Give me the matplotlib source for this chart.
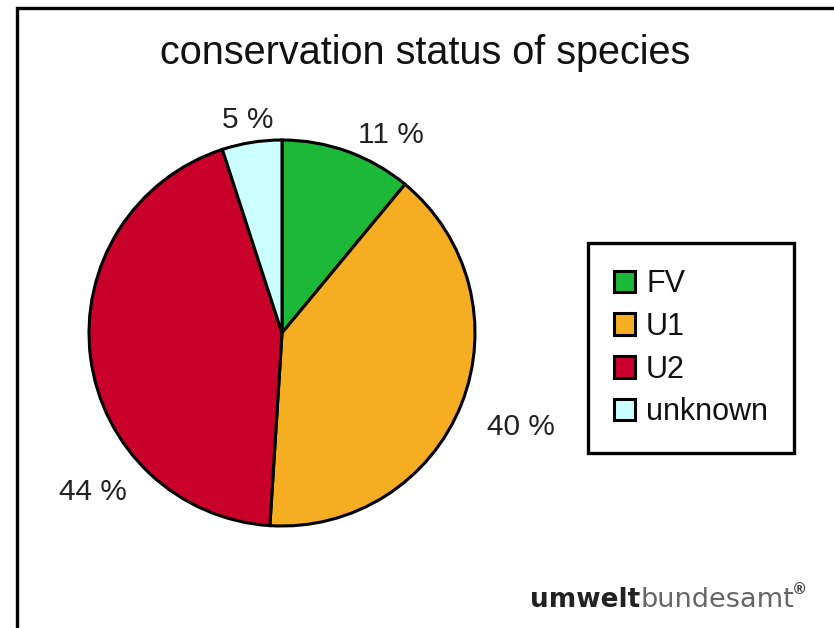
import matplotlib
matplotlib.use("Agg")
import matplotlib.pyplot as plt
from matplotlib.patches import Rectangle, Patch
import numpy as np

# data
categories = ["FV", "U1", "U2", "unknown"]
shares = [11, 40, 44, 5]
pct_labels = ["11 %", "40 %", "44 %", "5 %"]
colors = ["#1cb838", "#f5ae22", "#c8002a", "#ccffff"]

# label placement (radius factor, angle shift in degrees) tuned by eye
label_dist = [1.17, 1.33, 1.28, 1.12]
label_shift = [-9, 0, 33, 0]

plt.rcParams["font.family"] = ["Liberation Sans", "DejaVu Sans"]

W, H = 834, 628
fig = plt.figure(figsize=(W / 100, H / 100), dpi=100)
fig.patch.set_facecolor("white")

# outer frame (cut off at the right and bottom, like the original)
fig.patches.append(Rectangle((17 / W, -0.1), 1.2, 1 - 8 / H + 0.1,
                             transform=fig.transFigure, fill=False,
                             edgecolor="black", linewidth=2.4))

fig.text(425 / W, 1 - 53 / H, "conservation status of species",
         ha="center", va="center", fontsize=28.5, color="#111111")

cx, cy, r = 282, 333, 193
ax = fig.add_axes([(cx - r) / W, (H - cy - r) / H, 2 * r / W, 2 * r / H])
wedges, _ = ax.pie(shares, colors=colors, startangle=90, counterclock=False,
                   wedgeprops=dict(edgecolor="black", linewidth=2.2))
ax.set_xlim(-1, 1)
ax.set_ylim(-1, 1)
ax.set_axis_off()

for w, lab, d, s in zip(wedges, pct_labels, label_dist, label_shift):
    ang = np.deg2rad((w.theta1 + w.theta2) / 2 + s)
    ax.text(d * np.cos(ang), d * np.sin(ang), lab, ha="center", va="center",
            fontsize=21.5, color="#222222", clip_on=False)

handles = [Patch(facecolor=c, edgecolor="black", linewidth=2.2) for c in colors]
leg = fig.legend(handles, categories, loc="upper left",
                 bbox_to_anchor=(588 / W, 1 - 243 / H), borderaxespad=0,
                 fontsize=22, fancybox=False, framealpha=1,
                 handlelength=0.7, handleheight=0.7, handletextpad=0.35,
                 labelspacing=0.42, borderpad=0.85)
leg.get_frame().set_edgecolor("black")
leg.get_frame().set_linewidth(2.4)
for t in leg.get_texts():
    t.set_color("#111111")

# logo text: bold "umwelt" + grey "bundesamt"
fig.canvas.draw()
renderer = fig.canvas.get_renderer()
t1 = fig.text(530 / W, 1 - 600 / H, "umwelt", fontsize=19, fontweight="bold",
              family="DejaVu Sans", color="#222222", ha="left", va="center")
bb = t1.get_window_extent(renderer)
t2 = fig.text(bb.x1 / W, 1 - 600 / H, "bundesamt", fontsize=19.5,
              family="DejaVu Sans", color="#666666", ha="left", va="center")
bb2 = t2.get_window_extent(renderer)
fig.text(bb2.x1 / W - 0.002, 1 - 590 / H, "\u00ae", fontsize=11,
         family="DejaVu Sans", color="#444444", ha="left", va="center",
         fontweight="bold")

fig.savefig("out.png", dpi=100)
